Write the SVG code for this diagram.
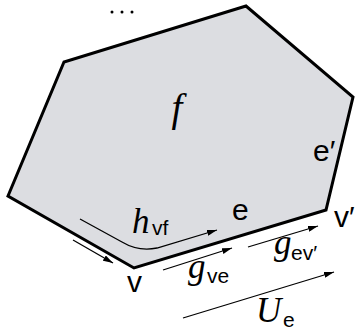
<svg xmlns="http://www.w3.org/2000/svg" width="355" height="331" viewBox="0 0 355 331">
<style>
.face{fill:#dcdde1;stroke:#000;stroke-width:3;stroke-linejoin:miter}
.arr{fill:none;stroke:#000;stroke-width:1.3;marker-end:url(#ah)}
.math{font-family:"Liberation Serif",serif;font-style:italic;font-size:35px;fill:#000}
.sf{font-family:"Liberation Sans",sans-serif;font-size:30px;fill:#000}
.sub{font-family:"Liberation Sans",sans-serif;font-size:21px;fill:#000}
</style>
<defs>
<marker id="ah" viewBox="0 0 10 6" refX="10" refY="3" markerWidth="10" markerHeight="6" markerUnits="userSpaceOnUse" orient="auto">
<path d="M0,0 L10,3 L0,6 Z" fill="#000"/>
</marker>
</defs>
<g id="face-f">
<polygon class="face" points="246,6 64,62 8,196 134,268 326,210 353,97"/>
<text class="math" x="177" y="121" text-anchor="middle" style="font-size:39px">f</text>
</g>
<g id="dots">
<circle cx="112" cy="12" r="1.5"/>
<circle cx="122" cy="12" r="1.5"/>
<circle cx="132" cy="12" r="1.5"/>
</g>
<g id="labels">
<text class="sf" x="232" y="220">e</text>
<text class="sf" x="313" y="161">e′</text>
<text class="sf" x="334" y="227">v′</text>
<text class="sf" x="127" y="292">v</text>
</g>
<g id="connectors">
<path class="arr" d="M80,219 L122,242 C132,248 142,251 157,248 L217,230"/>
<path class="arr" d="M73,240 L113,263"/>
<path class="arr" d="M163,270 L232,248"/>
<path class="arr" d="M248,247 L318,226"/>
<path class="arr" d="M183,318 L334,272"/>
</g>
<g id="arrow-labels">
<text x="132" y="233"><tspan class="math">h</tspan><tspan class="sub" x="152" y="235">vf</tspan></text>
<text x="188" y="278"><tspan class="math">g</tspan><tspan class="sub" x="207" y="283">ve</tspan></text>
<text x="274" y="254"><tspan class="math">g</tspan><tspan class="sub" x="291" y="260">ev′</tspan></text>
<text x="256" y="322"><tspan class="math">U</tspan><tspan class="sub" x="283" y="327">e</tspan></text>
</g>
</svg>
